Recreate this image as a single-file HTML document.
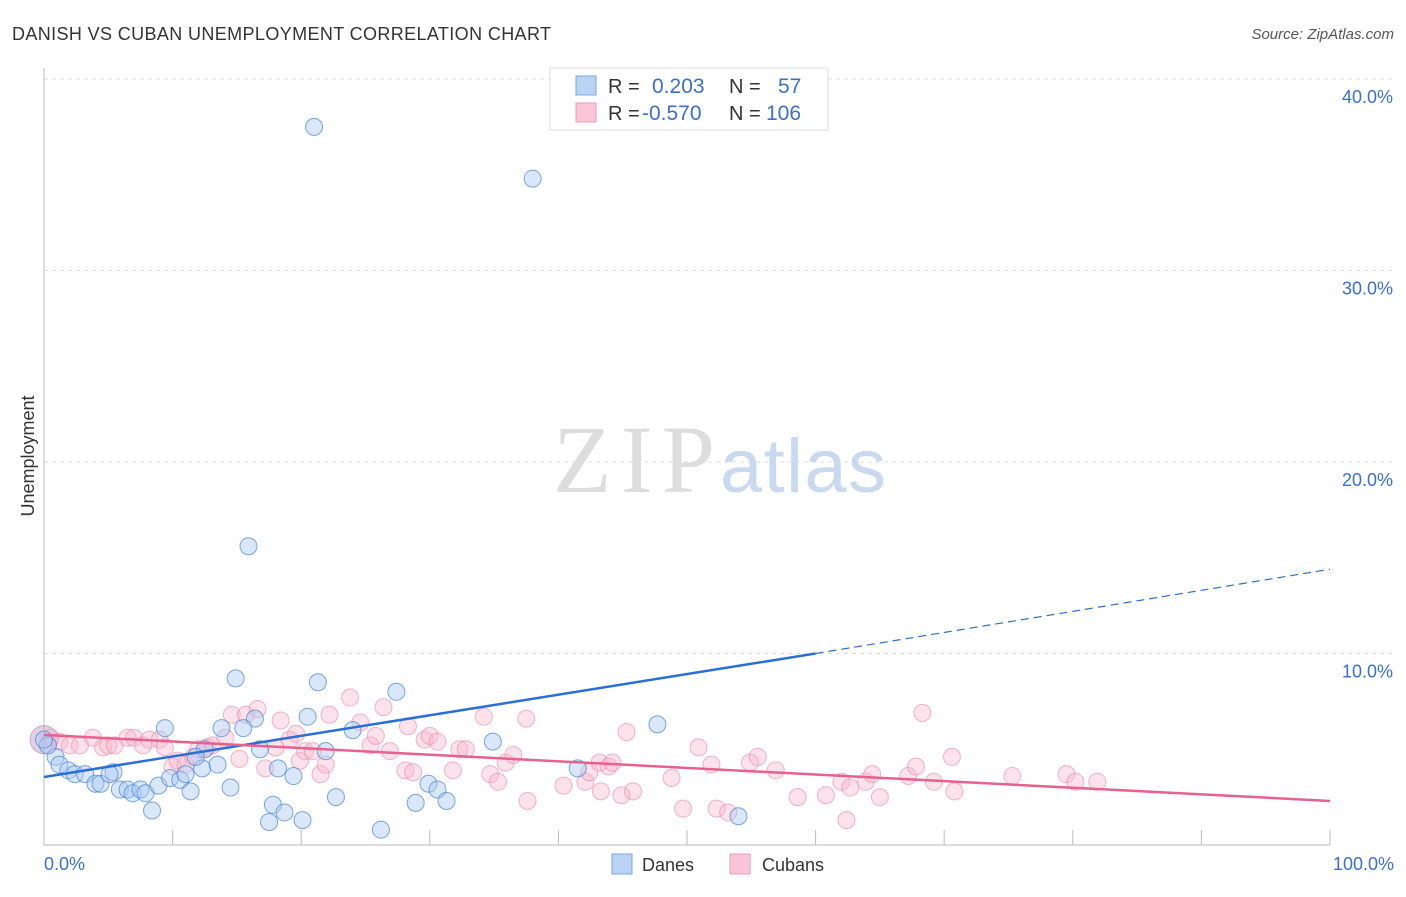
<!DOCTYPE html>
<html><head><meta charset="utf-8">
<style>
body{margin:0;background:#fff;font-family:"Liberation Sans",sans-serif;}
svg text{font-family:"Liberation Sans",sans-serif;}
</style></head>
<body>
<svg id="chart" width="1406" height="892" viewBox="0 0 1406 892" xmlns="http://www.w3.org/2000/svg">
<text x="12" y="40" font-size="18" fill="#333" textLength="539">DANISH VS CUBAN UNEMPLOYMENT CORRELATION CHART</text>
<text x="1394" y="39" font-size="15" fill="#555" text-anchor="end" font-style="italic">Source: ZipAtlas.com</text>
<g id="grid"></g>
<g>
<text x="553" y="492" font-size="96" fill="#ddd" textLength="162" style="font-family:'Liberation Serif',serif">ZIP</text>
<text x="720" y="492" font-size="76" fill="#c9daf0" textLength="166">atlas</text>
</g>
<line x1="44" y1="68" x2="44" y2="845" stroke="#bbb"/>
<line x1="44" y1="845" x2="1330" y2="845" stroke="#bbb"/>
<g id="xticks"></g>
<g id="yticks"></g>
<text x="34" y="456" font-size="18" fill="#333" text-anchor="middle" transform="rotate(-90 34 456)">Unemployment</text>
<text x="44" y="870" font-size="18" fill="#3a6fd0">0.0%</text>
<text x="1394" y="870" font-size="18" fill="#3a6fd0" text-anchor="end">100.0%</text>
<g id="pink"></g>
<g id="blue"></g>
<g id="lines"></g>
<g>
<rect x="550" y="68" width="278" height="62" fill="#fff" stroke="#ddd"/>
<rect x="576" y="76" width="20" height="19" fill="#b9d3f5" stroke="#7aa7e6"/>
<rect x="576" y="103" width="20" height="19" fill="#fac5d6" stroke="#ee9ab4"/>
<text x="608" y="93" font-size="20" fill="#333">R =</text>
<text x="652" y="93" font-size="21" fill="#3a6fd0">0.203</text>
<text x="729" y="93" font-size="20" fill="#333">N =</text>
<text x="778" y="93" font-size="21" fill="#3a6fd0">57</text>
<text x="608" y="120" font-size="20" fill="#333">R =</text>
<text x="642" y="120" font-size="21" fill="#3a6fd0">-0.570</text>
<text x="729" y="120" font-size="20" fill="#333">N =</text>
<text x="766" y="120" font-size="21" fill="#3a6fd0">106</text>
</g>
<g>
<rect x="612" y="854" width="20" height="20" fill="#b9d3f5" stroke="#7aa7e6"/>
<text x="642" y="871" font-size="18" fill="#333">Danes</text>
<rect x="730" y="854" width="20" height="20" fill="#fac5d6" stroke="#ee9ab4"/>
<text x="762" y="871" font-size="18" fill="#333">Cubans</text>
</g>
</svg>
<script>
const yTicks=[10,20,30,40];
const xTickVals=[0,10,20,30,40,50,60,70,80,90,100];
const daneX=[21.0,38.0,15.9,14.9,21.3,27.4,47.7,9.4,13.8,16.4,20.5,24.0,15.5,16.8,21.9,34.9,0.9,1.2,1.9,2.4,3.2,4.0,4.4,5.4,5.1,5.9,6.5,6.9,7.5,7.9,8.4,8.9,9.8,10.6,11.0,11.4,12.3,13.5,14.5,17.8,18.2,18.7,17.5,20.1,19.4,22.7,26.2,28.9,29.9,30.6,31.3,41.5,54.0,12.5,11.8,0.3,0.0];
const daneY=[37.5,34.8,15.6,8.7,8.5,8.0,6.3,6.1,6.1,6.6,6.7,6.0,6.1,5.0,4.9,5.4,4.6,4.2,3.9,3.7,3.7,3.2,3.2,3.8,3.7,2.9,2.9,2.7,2.9,2.7,1.8,3.1,3.5,3.4,3.7,2.8,4.0,4.2,3.0,2.1,4.0,1.7,1.2,1.3,3.6,2.5,0.8,2.2,3.2,2.9,2.3,4.0,1.5,5.0,4.6,5.2,5.5];
const cubX=[0.5,1.2,2.0,2.8,3.8,4.6,5.0,5.5,6.5,7.0,7.7,8.2,9.0,9.4,10.0,10.4,11.0,11.6,12.0,12.7,13.1,14.1,14.6,15.7,16.6,15.2,17.2,18.0,18.4,19.1,19.6,19.9,20.3,20.9,21.5,21.9,22.2,23.8,24.6,25.4,25.8,26.4,26.9,28.1,28.3,28.7,29.6,30.0,30.6,31.8,32.3,32.8,34.2,34.7,35.3,35.9,36.5,37.5,37.6,40.4,42.1,42.4,43.2,43.3,43.9,44.2,44.9,45.3,45.8,48.8,49.7,50.9,51.9,52.3,53.2,54.9,55.5,56.9,58.6,60.8,62.4,62.0,62.7,63.9,64.4,65.0,67.2,67.8,69.2,68.3,70.6,70.8,75.3,79.5,80.2,81.9];
const cubY=[5.6,5.4,5.2,5.2,5.6,5.1,5.2,5.2,5.6,5.6,5.2,5.5,5.5,5.1,4.1,4.4,4.2,4.6,5.0,5.1,5.2,5.6,6.8,6.8,7.1,4.5,4.0,5.1,6.5,5.5,5.8,4.4,4.9,4.9,3.7,4.2,6.8,7.7,6.4,5.2,5.7,7.2,4.9,3.9,6.2,3.8,5.5,5.7,5.4,3.9,5.0,5.0,6.7,3.7,3.3,4.3,4.7,6.6,2.3,3.1,3.3,3.8,4.3,2.8,4.1,4.3,2.6,5.9,2.8,3.5,1.9,5.1,4.2,1.9,1.7,4.3,4.6,3.9,2.5,2.6,1.3,3.3,3.0,3.3,3.7,2.5,3.6,4.1,3.3,6.9,4.6,2.8,3.6,3.7,3.3,3.3];
const blueTrend=[3.55,10.0,14.4]; // at x=0, 60, 100
const pinkTrend=[5.75,2.3]; // at x=0, 100
const NS='http://www.w3.org/2000/svg';
const sx=v=>44+v*12.86;
const sy=v=>845-v*19.15;
function mk(tag,parent,attrs){const e=document.createElementNS(NS,tag);for(const k in attrs)e.setAttribute(k,attrs[k]);document.getElementById(parent).appendChild(e);return e;}
yTicks.forEach(t=>{
  const l=mk('line','grid',{x1:44,x2:1393,y1:sy(t),y2:sy(t),stroke:'#ddd','stroke-dasharray':'4 4'});
  
  
  const tx=mk('text','yticks',{x:1393,y:sy(t)+24,'font-size':18,fill:'#3a6fd0','text-anchor':'end'});
  tx.textContent=t.toFixed(1)+'%';
  
  
});
xTickVals.forEach(t=>{
  const l=mk('line','xticks',{x1:sx(t),x2:sx(t),y1:830,y2:845,stroke:'#bbb'});
  
  
});
const big=mk('circle','pink',{cx:sx(0),cy:sy(5.5),r:14,fill:'rgba(190,150,200,0.45)',stroke:'rgba(200,120,170,0.6)'});


cubX.forEach((x,i)=>{
  const c=mk('circle','pink',{cx:sx(x),cy:sy(cubY[i]),r:8.5,fill:'rgba(248,182,204,0.4)',stroke:'rgba(236,140,172,0.65)'});
  
  
});
daneX.forEach((x,i)=>{
  const c=mk('circle','blue',{cx:sx(x),cy:sy(daneY[i]),r:8.5,fill:'rgba(170,202,242,0.45)',stroke:'rgba(70,130,215,0.7)'});
  
  
});
const b1=mk('line','lines',{x1:sx(0),y1:sy(blueTrend[0]),x2:sx(60),y2:sy(blueTrend[1]),stroke:'#2a6fd8','stroke-width':2.5});


const b2=mk('line','lines',{x1:sx(60),y1:sy(blueTrend[1]),x2:sx(100),y2:sy(blueTrend[2]),stroke:'#2a6fd8','stroke-width':1.2,'stroke-dasharray':'8 5'});


const p1=mk('line','lines',{x1:sx(0),y1:sy(pinkTrend[0]),x2:sx(100),y2:sy(pinkTrend[1]),stroke:'#e8608c','stroke-width':2.5});


</script>
</body></html>
